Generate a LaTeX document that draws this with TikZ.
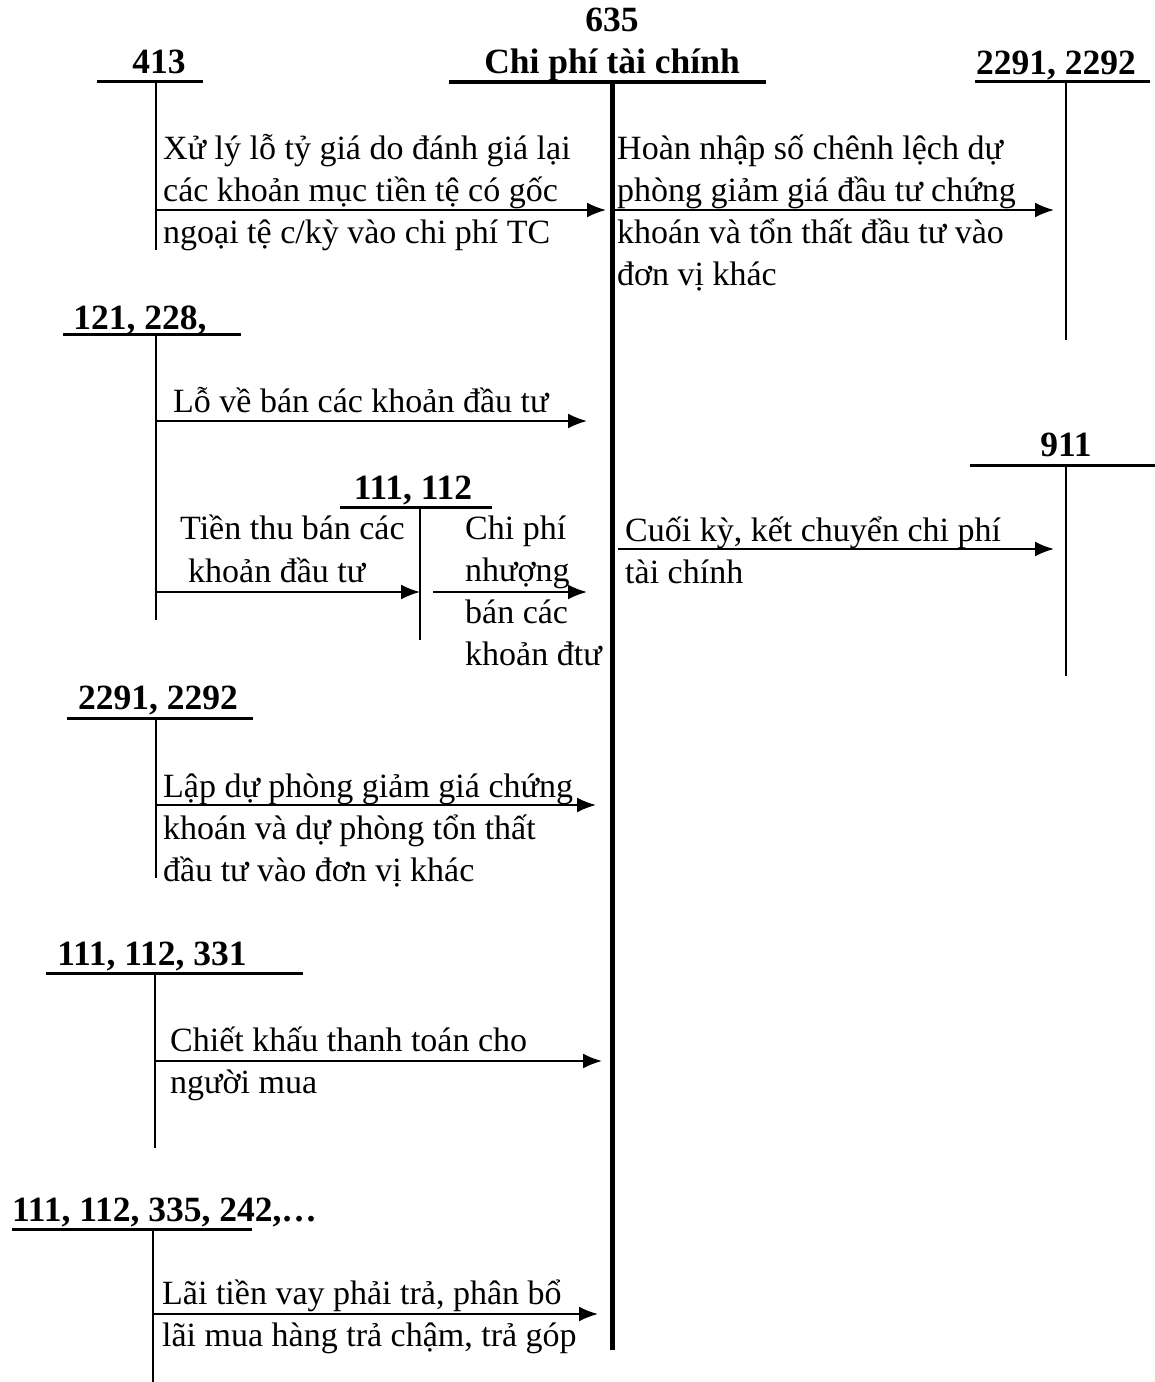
\documentclass[tikz,border=0pt]{standalone}
\usepackage{fontspec}
\setmainfont{Liberation Serif}
\usetikzlibrary{arrows.meta}
\newcommand\mylines[1]{\begin{tabular}[t]{@{}l@{}}#1\end{tabular}}
\tikzset{
  body/.style={anchor=base west, inner sep=0pt, font=\fontsize{34}{42}\selectfont},
  head/.style={anchor=base, inner sep=0pt, font=\fontsize{35.5}{42}\selectfont\bfseries},
  tline/.style={line width=3pt},
  vline/.style={line width=2.5pt},
  mainv/.style={line width=5pt},
  flow/.style={line width=2pt, -{Latex[length=19pt,width=15pt]}},
}
\begin{document}
\begin{tikzpicture}[x=1pt,y=-1pt]
\useasboundingbox (0,0) rectangle (1155,1382);
% main account 635
\node[head] (h635) at (612,31) {635};
\node[head] (hmain) at (612,73) {Chi phí tài chính};
\draw[line width=4pt] (449,82) -- (766,82);
\coordinate (mtop) at (612,82);
\coordinate (mbot) at (612,1350);
\draw[mainv] (mtop) -- (mbot);

% 413
\node[head] (h413) at (159,73) {413};
\draw[tline] (97,81) -- (203,81);
\draw[vline] (156,81) -- (156,250);
\coordinate (s413) at (156,210);
\coordinate (e413) at (606,210);
\draw[flow] (s413) -- (e413);
\node[body] (t413) at (163,159) {\mylines{Xử lý lỗ tỷ giá do đánh giá lại\\các khoản mục tiền tệ có gốc\\ngoại tệ c/kỳ vào chi phí TC}};

% 2291, 2292 right
\node[head] (h2291r) at (1056,74) {2291, 2292};
\draw[tline] (975,81) -- (1150,81);
\draw[vline] (1066,81) -- (1066,340);
\coordinate (s2291r) at (612,210);
\coordinate (e2291r) at (1054,210);
\draw[flow] (s2291r) -- (e2291r);
\node[body] (t2291r) at (617,159) {\mylines{Hoàn nhập số chênh lệch dự\\phòng giảm giá đầu tư chứng\\khoán và tổn thất đầu tư vào\\đơn vị khác}};

% 121, 228,
\node[head] (h121) at (140,329) {121, 228,};
\draw[tline] (63,334) -- (241,334);
\draw[vline] (156,334) -- (156,620);
\coordinate (s121) at (156,421);
\coordinate (e121) at (587,421);
\draw[flow] (s121) -- (e121);
\node[body] (t121) at (173,412) {Lỗ về bán các khoản đầu tư};

% 111, 112 (middle)
\node[head] (h111) at (413,499) {111, 112};
\draw[tline] (340,507) -- (492,507);
\draw[vline] (420,507) -- (420,640);
\coordinate (s111a) at (156,592);
\coordinate (e111a) at (420,592);
\draw[flow] (s111a) -- (e111a);
\node[body] (t111a) at (180,539) {Tiền thu bán các};
\node[body] (t111b) at (188,582) {khoản đầu tư};
\coordinate (s111b) at (433,592);
\coordinate (e111b) at (587,592);
\draw[flow] (s111b) -- (e111b);
\node[body] (t111c) at (465,539) {\mylines{Chi phí\\nhượng\\bán các\\khoản đtư}};

% 911
\node[head] (h911) at (1066,456) {911};
\draw[tline] (970,465) -- (1155,465);
\draw[vline] (1066,465) -- (1066,676);
\coordinate (s911) at (618,549);
\coordinate (e911) at (1054,549);
\draw[flow] (s911) -- (e911);
\node[body] (t911) at (625,541) {\mylines{Cuối kỳ, kết chuyển chi phí\\tài chính}};

% 2291, 2292 left
\node[head] (h2291l) at (158,709) {2291, 2292};
\draw[tline] (67,718) -- (253,718);
\draw[vline] (156,718) -- (156,878);
\coordinate (s2291l) at (156,805);
\coordinate (e2291l) at (596,805);
\draw[flow] (s2291l) -- (e2291l);
\node[body] (t2291l) at (163,797) {\mylines{Lập dự phòng giảm giá chứng\\khoán và dự phòng tổn thất\\đầu tư vào đơn vị khác}};

% 111, 112, 331
\node[head] (h331) at (152,965) {111, 112, 331};
\draw[tline] (46,973) -- (303,973);
\draw[vline] (155,973) -- (155,1148);
\coordinate (s331) at (155,1061);
\coordinate (e331) at (602,1061);
\draw[flow] (s331) -- (e331);
\node[body] (t331) at (170,1051) {\mylines{Chiết khấu thanh toán cho\\người mua}};

% 111, 112, 335, 242,...
\node[head, anchor=base west] (h335) at (12,1221) {111, 112, 335, 242,…};
\draw[tline] (12,1229) -- (252,1229);
\draw[vline] (153,1229) -- (153,1382);
\coordinate (s335) at (153,1314);
\coordinate (e335) at (598,1314);
\draw[flow] (s335) -- (e335);
\node[body] (t335) at (162,1304) {\mylines{Lãi tiền vay phải trả, phân bổ\\lãi mua hàng trả chậm, trả góp}};
\end{tikzpicture}
\end{document}
